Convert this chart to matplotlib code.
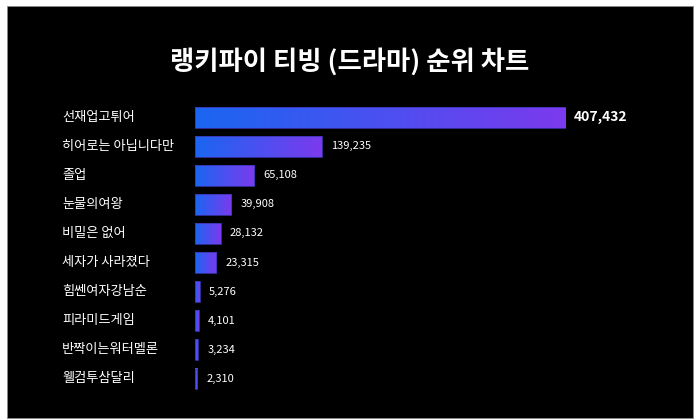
import numpy as np
import matplotlib.pyplot as plt
from matplotlib.colors import LinearSegmentedColormap
from matplotlib.patches import Rectangle

plt.rcParams['font.family'] = ['Noto Sans CJK KR', 'DejaVu Sans']

titles = ["선재업고튀어", "히어로는 아닙니다만", "졸업", "눈물의여왕", "비밀은 없어",
          "세자가 사라졌다", "힘쎈여자강남순", "피라미드게임", "반짝이는워터멜론", "웰컴투삼달리"]
views = [407432, 139235, 65108, 39908, 28132, 23315, 5276, 4101, 3234, 2310]

grad = LinearSegmentedColormap.from_list("bp", ["#1a66f2", "#7c3aed"])

fig = plt.figure(figsize=(7, 4.2), dpi=100, facecolor="white")
# black panel with thin white frame
fig.patches.append(Rectangle((7 / 700, 2 / 420), 686 / 700, 412 / 420,
                             transform=fig.transFigure, facecolor="black",
                             edgecolor="#888888", linewidth=0.6, zorder=-1))

ax = fig.add_axes([195 / 700, 0.063, 371 / 700, 0.693])
ax.set_facecolor("none")
ax.axis("off")

h = 0.72
g = np.linspace(0, 1, 256).reshape(1, -1)
for i, (name, v) in enumerate(zip(titles, views)):
    ax.imshow(g, cmap=grad, aspect="auto", extent=(0, v, i + h / 2, i - h / 2),
              interpolation="bilinear", zorder=2)
    ax.add_patch(Rectangle((0, i - h / 2), v, h, facecolor="none",
                           edgecolor="#3a34b0", linewidth=0.6, zorder=3))
    ax.text(-133 / 371 * max(views), i, name, color="white", fontsize=9.5,
            ha="left", va="center", clip_on=False)
    if i == 0:
        ax.text(v + 0.02 * max(views), i, f"{v:,}", color="white", fontsize=10,
                fontweight="bold", ha="left", va="center", clip_on=False)
    else:
        ax.text(v + 0.025 * max(views), i, f"{v:,}", color="white", fontsize=8,
                ha="left", va="center", clip_on=False)
ax.set_ylim(len(views) - 0.5, -0.5)
ax.set_xlim(0, max(views))

fig.text(0.5, 1 - 62 / 420, "랭키파이 티빙 (드라마) 순위 차트", color="white",
         fontsize=19, fontweight="bold", ha="center", va="center")

fig.savefig("out.png", dpi=100, facecolor="white")
